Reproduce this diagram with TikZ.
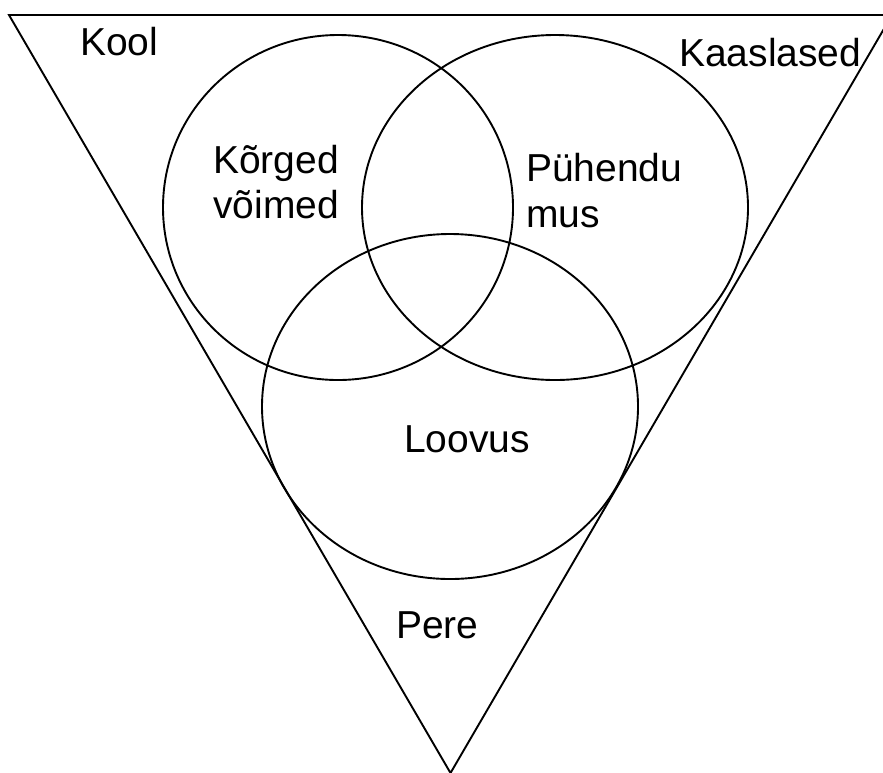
\documentclass[tikz,border=0pt]{standalone}
\usepackage{fontspec}
\setmainfont{Liberation Sans}
\usetikzlibrary{shapes.geometric}
\begin{document}
\begin{tikzpicture}[x=1pt,y=-1pt,
  edge/.style={line width=1.9pt, line join=miter},
  blob/.style={ellipse, draw, line width=1.9pt, inner sep=0pt, outer sep=0pt},
  lab/.style={anchor=base west, inner sep=0pt, font=\fontsize{39}{45}\selectfont}]
\useasboundingbox (0,0) rectangle (883,772);
\coordinate (tl) at (9,15);
\coordinate (tr) at (892,15);
\coordinate (ap) at (450.5,773);
\draw[edge] (tl) -- (tr) -- (ap) -- cycle;
\node[blob, minimum width=350pt, minimum height=345pt] (c1) at (338,207.5) {};
\node[blob, minimum width=386pt, minimum height=345pt] (c2) at (555,207.5) {};
\node[blob, minimum width=376pt, minimum height=345pt] (c3) at (450,406.5) {};
\node[lab] (kool) at (80,55) {Kool};
\node[lab] (kaas) at (679,66) {Kaaslased};
\node[lab] (k1) at (213,173) {Kõrged};
\node[lab] (k2) at (213,218) {võimed};
\node[lab] (p1) at (526,181) {Pühendu};
\node[lab] (p2) at (526,227) {mus};
\node[lab] (loov) at (404,452) {Loovus};
\node[lab] (pere) at (396,638) {Pere};
\end{tikzpicture}
\end{document}
